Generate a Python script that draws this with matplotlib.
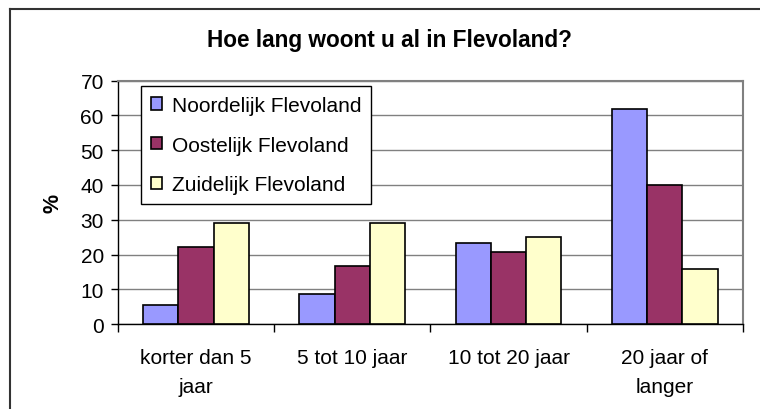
import numpy as np
import matplotlib.pyplot as plt
from matplotlib.lines import Line2D

plt.rcParams['font.family'] = ['Liberation Sans', 'DejaVu Sans']

categories = ['korter dan 5\njaar', '5 tot 10 jaar', '10 tot 20 jaar', '20 jaar of\nlanger']
series = ['Noordelijk Flevoland', 'Oostelijk Flevoland', 'Zuidelijk Flevoland']
noord = [5.6, 8.6, 23.4, 61.9]
oost = [22.3, 16.6, 20.7, 40.1]
zuid = [29.2, 29.2, 25.2, 16.0]
colors = ['#9999FF', '#993366', '#FFFFCC']

fig = plt.figure(figsize=(7.6, 4.1), dpi=100)
ax = fig.add_axes([0.1549, 0.2066, 0.8227, 0.5946])

x = np.arange(len(categories))
w = 0.226
for i, (vals, name) in enumerate(zip([noord, oost, zuid], series)):
    ax.bar(x + (i - 1) * w, vals, w, color=colors[i], edgecolor='black',
           linewidth=1.2, label=name, zorder=3)

ax.set_xlim(-0.5, 3.5)
ax.set_ylim(0, 70)
ax.set_yticks(np.arange(0, 71, 10))
ax.yaxis.grid(True, color='#808080', linewidth=1, zorder=0)

ax.set_xticks(x)
ax.set_xticklabels(categories, fontsize=15, linespacing=1.7)
ax.set_xticks(np.arange(-0.5, 3.6, 1), minor=True)
ax.tick_params(axis='x', which='major', length=0, pad=17)
ax.tick_params(axis='x', which='minor', length=6, width=1, direction='out', color='black')
ax.tick_params(axis='y', length=5, width=1, labelsize=15, pad=5)

for s in ['top', 'right']:
    ax.spines[s].set_color('#808080')
    ax.spines[s].set_linewidth(1.5)
for s in ['left', 'bottom']:
    ax.spines[s].set_color('black')
    ax.spines[s].set_linewidth(1)

ax.set_ylabel('%', fontsize=15.5, fontweight='bold', labelpad=12)

leg = ax.legend(loc='upper left', bbox_to_anchor=(0.038, 0.976), borderaxespad=0,
                fontsize=15, fancybox=False, edgecolor='black', framealpha=1,
                handlelength=0.55, handleheight=0.55, handletextpad=0.45,
                labelspacing=1.0, borderpad=0.45)
leg.get_frame().set_linewidth(1)

fig.text(0.513, 0.902, 'Hoe lang woont u al in Flevoland?', ha='center', va='center',
         fontsize=16.3, fontweight='bold')

fig.add_artist(Line2D([10 / 760, 10 / 760], [0, 1 - 10 / 410], color='#333333', linewidth=1.5))
fig.add_artist(Line2D([10 / 760, 1], [1 - 10 / 410, 1 - 10 / 410], color='#333333', linewidth=1.5))

fig.savefig('out.png', dpi=100)
